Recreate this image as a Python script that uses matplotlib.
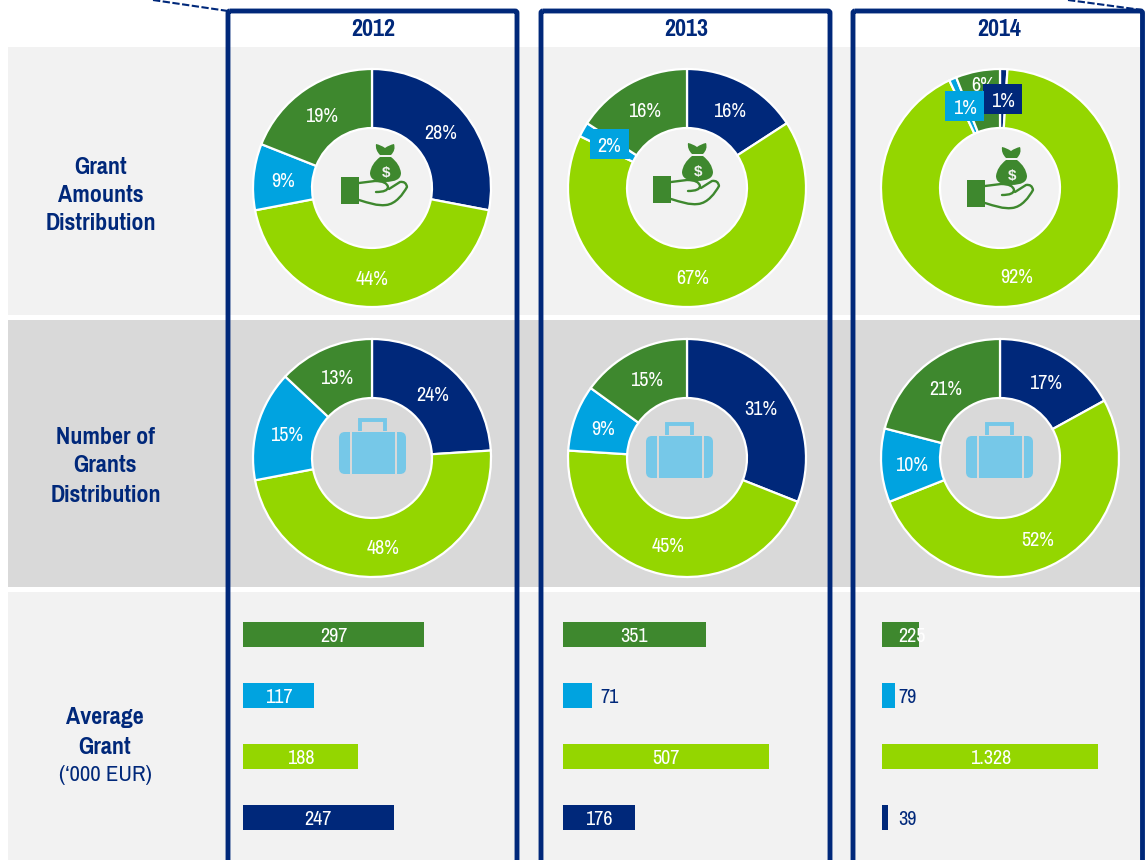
import matplotlib
matplotlib.use("Agg")
import matplotlib.pyplot as plt
from matplotlib import font_manager as fm
from matplotlib.patches import Rectangle, FancyBboxPatch, PathPatch
from matplotlib.path import Path
import numpy as np

years = ["2012", "2013", "2014"]
amount_shares = [[28, 44, 9, 19], [16, 67, 2, 16], [1, 92, 1, 6]]
number_shares = [[24, 48, 15, 13], [31, 45, 9, 15], [17, 52, 10, 21]]
avg_grant = [[297, 117, 188, 247], [351, 71, 507, 176], [225, 79, 1328, 39]]
avg_labels = [["297", "117", "188", "247"], ["351", "71", "507", "176"], ["225", "79", "1.328", "39"]]
row_titles = ["Grant\nAmounts\nDistribution", "Number of\nGrants\nDistribution"]
avg_title = ["Average", "Grant"]
avg_unit = "(‘000 EUR)"

NAVY, LIME, BLUE, GREEN = "#00287A", "#94D600", "#00A3E0", "#3E882E"
slice_colors = [NAVY, LIME, BLUE, GREEN]
bar_colors = [GREEN, BLUE, LIME, NAVY]
ICON_BLUE = "#76C8E8"
W, H = 1148, 860

# A narrow face is closest to the reference; fall back to smaller Liberation Sans otherwise
have = {f.name for f in fm.fontManager.ttflist}
if "Archivo Narrow" in have and "Pragati Narrow" in have:
    REG, BOLD = ["Archivo Narrow", "DejaVu Sans"], ["Pragati Narrow", "DejaVu Sans"]
    FS_LAB, FS_BOLD, FS_UNIT = 14.5, 18.8, 16.5
else:
    REG, BOLD = ["Liberation Sans", "DejaVu Sans"], ["Liberation Sans", "DejaVu Sans"]
    FS_LAB, FS_BOLD, FS_UNIT = 12, 14.5, 13.5
plt.rcParams["font.family"] = REG

fig = plt.figure(figsize=(W / 100, H / 100), dpi=100, facecolor="white")


def px_axes(x0, y0, x1, y1, z):
    a = fig.add_axes([x0 / W, 1 - y1 / H, (x1 - x0) / W, (y1 - y0) / H], zorder=z)
    a.patch.set_alpha(0)
    a.axis("off")
    return a


bg = px_axes(0, 0, W, H, 0)
bg.set_xlim(0, W)
bg.set_ylim(H, 0)
for y0, y1, c in [(47, 315, "#F2F2F2"), (320, 587, "#D9D9D9"), (592, 860, "#F2F2F2")]:
    bg.add_patch(Rectangle((8, y0), 1137, y1 - y0, fc=c, ec="none"))

centers_x = [372, 687, 1000]
centers_y = [188, 458]
R = 119


def donut(cx, cy, shares, boxed=()):
    a = px_axes(cx - R - 3, cy - R - 3, cx + R + 3, cy + R + 3, 1)
    wedges, _ = a.pie(shares, colors=slice_colors, startangle=90, counterclock=False,
                      radius=1, wedgeprops=dict(width=0.496, edgecolor="white", linewidth=1.6))
    lim = (R + 3) / R
    a.set_xlim(-lim, lim)
    a.set_ylim(-lim, lim)
    a.set_aspect("equal")
    late = []
    for i, (w, s) in enumerate(zip(wedges, shares)):
        t = np.deg2rad((w.theta1 + w.theta2) / 2)
        lx, ly = 0.748 * np.cos(t), 0.748 * np.sin(t)
        if s == 6:
            ly += 17 / R
        if i in boxed:
            late.append((lx, ly, s, slice_colors[i]))
        else:
            a.text(lx, ly - 2 / R, f"{s}%", color="white", fontsize=FS_LAB, ha="center", va="center", zorder=5)
    for lx, ly, s, c in late:
        a.add_patch(Rectangle((lx - 19.5 / R, ly - 15 / R), 39 / R, 30 / R, fc=c, ec="none", zorder=6))
        a.text(lx, ly - 2 / R, f"{s}%", color="white", fontsize=FS_LAB, ha="center", va="center", zorder=7)


boxed_slices = [(), (2,), (0, 2)]
for j in range(3):
    donut(centers_x[j], centers_y[0], amount_shares[j], boxed_slices[j])
    donut(centers_x[j], centers_y[1], number_shares[j])

# average grant bars, each column on its own scale
bar_left = [243, 563, 882]
bar_scale = [0.61, 0.407, 0.163]
ROW = 61
for j in range(3):
    a = px_axes(bar_left[j], 604, bar_left[j] + 240, 848, 1)
    a.barh(range(4), avg_grant[j], height=0.41, color=bar_colors)
    a.set_xlim(0, 240 / bar_scale[j])
    a.set_ylim(3.5, -0.5)
    for i, (v, lab) in enumerate(zip(avg_grant[j], avg_labels[j])):
        length = v * bar_scale[j]
        y = i + 2 / ROW
        if length < 30:
            off = length + 8 if length > 20 else 16
            a.text(off / bar_scale[j], y, lab, color=NAVY, fontsize=FS_LAB, ha="left", va="center")
        elif length < 40:
            a.text(30 / bar_scale[j], y, lab, color="white", fontsize=FS_LAB, ha="center", va="center")
        else:
            a.text(v / 2, y, lab, color="white", fontsize=FS_LAB, ha="center", va="center")

ov = px_axes(0, 0, W, H, 3)
ov.set_xlim(0, W)
ov.set_ylim(H, 0)

# column frames
for x0, x1, yr in [(228, 517, years[0]), (541, 830, years[1]), (853, 1142.5, years[2])]:
    ov.add_patch(FancyBboxPatch((x0, 11), x1 - x0, 900, boxstyle="round,pad=0,rounding_size=2",
                                fc="none", ec=NAVY, lw=3.5))
    ov.text((x0 + x1) / 2 + 1, 30, yr, color=NAVY, family=BOLD, fontsize=FS_BOLD, fontweight="bold",
            ha="center", va="center")

# dashed leader lines
ov.plot([153, 228], [0, 11], color=NAVY, lw=1.5, ls=(0, (3.5, 1.2)))
ov.plot([1068, 1142], [0, 10], color=NAVY, lw=1.5, ls=(0, (3.5, 1.2)))

# row titles
for title, tx, ys in [(row_titles[0], 101, (167, 195, 224)), (row_titles[1], 105.5, (438, 466, 495))]:
    for line, y in zip(title.split("\n"), ys):
        ov.text(tx, y, line, color=NAVY, family=BOLD, fontsize=FS_BOLD, fontweight="bold",
                ha="center", va="center")
ov.text(105, 718, avg_title[0], color=NAVY, family=BOLD, fontsize=FS_BOLD, fontweight="bold", ha="center", va="center")
ov.text(105, 747, avg_title[1], color=NAVY, family=BOLD, fontsize=FS_BOLD, fontweight="bold", ha="center", va="center")
ov.text(105, 775, avg_unit, color=NAVY, fontsize=FS_UNIT, ha="center", va="center")


def money_icon(x, y, c=GREEN):
    # x, y: top-left of the cuff
    def P(*pts):
        return [(x + a, y + b) for a, b in pts]
    ov.add_patch(Rectangle((x, y), 18, 27, fc=c, ec="none"))
    M, L, C3, C4 = Path.MOVETO, Path.LINETO, Path.CURVE3, Path.CURVE4
    upper = Path(P((18, 6), (34, 4), (46, 4), (47, 10), (47, 15), (35, 15)), [M, L, C3, C3, C3, C3])
    lower = Path(P((18, 23), (28, 26), (36, 29), (45, 28), (55, 27), (62, 17), (66, 10), (65, 4), (59, 5), (48, 12)),
                 [M, C4, C4, C4, C4, C4, C4, C3, C3, L])
    for p in (upper, lower):
        ov.add_patch(PathPatch(p, fc="none", ec=c, lw=1.7, capstyle="round", joinstyle="round"))
    bag = Path(P((39, -20), (30, -13), (29, -4), (29, 5), (44, 5), (60, 5), (60, -4), (59, -13), (50, -20), (39, -20)),
               [M, C3, C3, C3, C3, C3, C3, C3, C3, Path.CLOSEPOLY])
    ov.add_patch(PathPatch(bag, fc=c, ec="none"))
    knot = Path(P((35, -33), (40, -32), (44, -29), (48, -32), (53, -33), (55, -27), (50, -22), (39, -22), (34, -27), (35, -33)),
                [M, C3, C3, C3, C3, C3, C3, L, C3, C3])
    ov.add_patch(PathPatch(knot, fc=c, ec="none"))
    ov.text(x + 45, y - 4, "$", color="#F2F2F2", fontsize=11, fontweight="bold",
            ha="center", va="center", family=["Liberation Sans", "DejaVu Sans"])


def case_icon(x, y, c=ICON_BLUE, bgc="#D9D9D9"):
    # x, y: top-left of the case body
    ov.add_patch(PathPatch(Path([(x + 21, y - 1), (x + 21, y - 12), (x + 46, y - 12), (x + 46, y - 1)]),
                           fc="none", ec=c, lw=2.8))
    ov.add_patch(FancyBboxPatch((x + 3, y + 3), 61, 36, boxstyle="round,pad=3,rounding_size=6", fc=c, ec="none"))
    for dx in (11, 56):
        ov.add_patch(Rectangle((x + dx, y), 1.8, 42, fc=bgc, ec="none"))


for mx, my in [(341, 177), (653, 176), (967, 180)]:
    money_icon(mx, my)
for cx, cy in [(339, 432), (646, 436), (966, 436)]:
    case_icon(cx, cy)

fig.savefig("out.png", dpi=100, facecolor="white")
